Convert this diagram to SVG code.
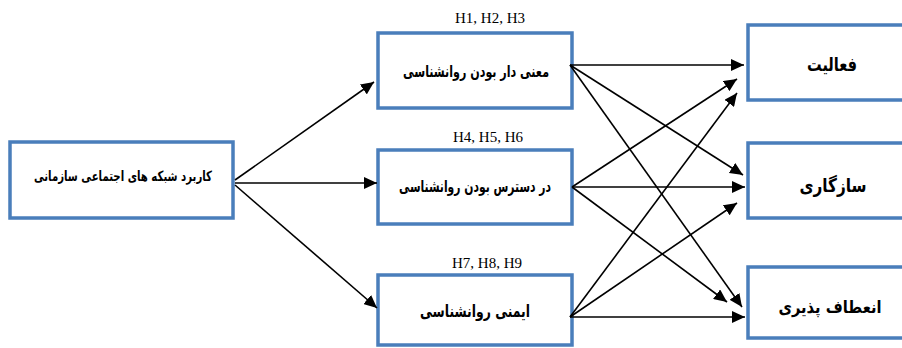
<svg xmlns="http://www.w3.org/2000/svg" width="902" height="348" viewBox="0 0 902 348">
<style>
.box{fill:#fff;stroke:#4a7ebb;stroke-width:3.5}
.fa{font-family:"DejaVu Sans","Noto Sans",sans-serif;font-weight:bold;fill:#000;text-anchor:middle;dominant-baseline:central;direction:rtl}
.h{font-family:"Liberation Serif",serif;font-size:15px;fill:#000;text-anchor:middle}
.c line{stroke:#000;stroke-width:1.6;marker-end:url(#ah)}
</style>
<defs>
<marker id="ah" markerUnits="userSpaceOnUse" markerWidth="14" markerHeight="12" refX="13" refY="6" orient="auto">
<path d="M0,0 L13,6 L0,12 Z" fill="#000"/>
</marker>
</defs>
<rect width="902" height="348" fill="#fff"/>
<g id="n-usage">
<rect class="box" x="10" y="142" width="223" height="76"/>
<text class="fa" x="123" y="176" font-size="14" textLength="178" lengthAdjust="spacingAndGlyphs">کاربرد شبکه های اجتماعی سازمانی</text>
</g>
<g id="n-meaning">
<text class="h" x="490" y="23">H1, H2, H3</text>
<rect class="box" x="378" y="33" width="194" height="75"/>
<text class="fa" x="476" y="71" font-size="16" textLength="146" lengthAdjust="spacingAndGlyphs">معنی دار بودن روانشناسی</text>
</g>
<g id="n-access">
<text class="h" x="488" y="142">H4, H5, H6</text>
<rect class="box" x="378" y="150" width="194" height="74"/>
<text class="fa" x="475" y="186" font-size="16" textLength="152" lengthAdjust="spacingAndGlyphs">در دسترس بودن روانشناسی</text>
</g>
<g id="n-safety">
<text class="h" x="487" y="268">H7, H8, H9</text>
<rect class="box" x="378" y="275" width="194" height="70"/>
<text class="fa" x="475" y="311" font-size="17" textLength="110" lengthAdjust="spacingAndGlyphs">ایمنی روانشناسی</text>
</g>
<g id="n-activity">
<rect class="box" x="748" y="25" width="157" height="75"/>
<text class="fa" x="832" y="64" font-size="19" textLength="50" lengthAdjust="spacingAndGlyphs">فعالیت</text>
</g>
<g id="n-adapt">
<rect class="box" x="748" y="143" width="157" height="75"/>
<text class="fa" x="833" y="185" font-size="19" textLength="67" lengthAdjust="spacingAndGlyphs">سازگاری</text>
</g>
<g id="n-flex">
<rect class="box" x="748" y="267" width="157" height="71"/>
<text class="fa" x="830" y="307" font-size="17" textLength="103" lengthAdjust="spacingAndGlyphs">انعطاف پذیری</text>
</g>
<g id="connectors" class="c">
<line x1="235" y1="180" x2="374" y2="82"/>
<line x1="235" y1="183" x2="377" y2="183"/>
<line x1="235" y1="185" x2="377" y2="308"/>
<line x1="570" y1="65" x2="744" y2="65"/>
<line x1="570" y1="65" x2="743" y2="175"/>
<line x1="570" y1="65" x2="742" y2="307"/>
<line x1="572" y1="187" x2="737" y2="79"/>
<line x1="572" y1="187" x2="745" y2="187"/>
<line x1="572" y1="187" x2="727" y2="302"/>
<line x1="570" y1="317" x2="737" y2="93"/>
<line x1="570" y1="317" x2="737" y2="203"/>
<line x1="570" y1="317" x2="745" y2="317"/>
</g>
</svg>
